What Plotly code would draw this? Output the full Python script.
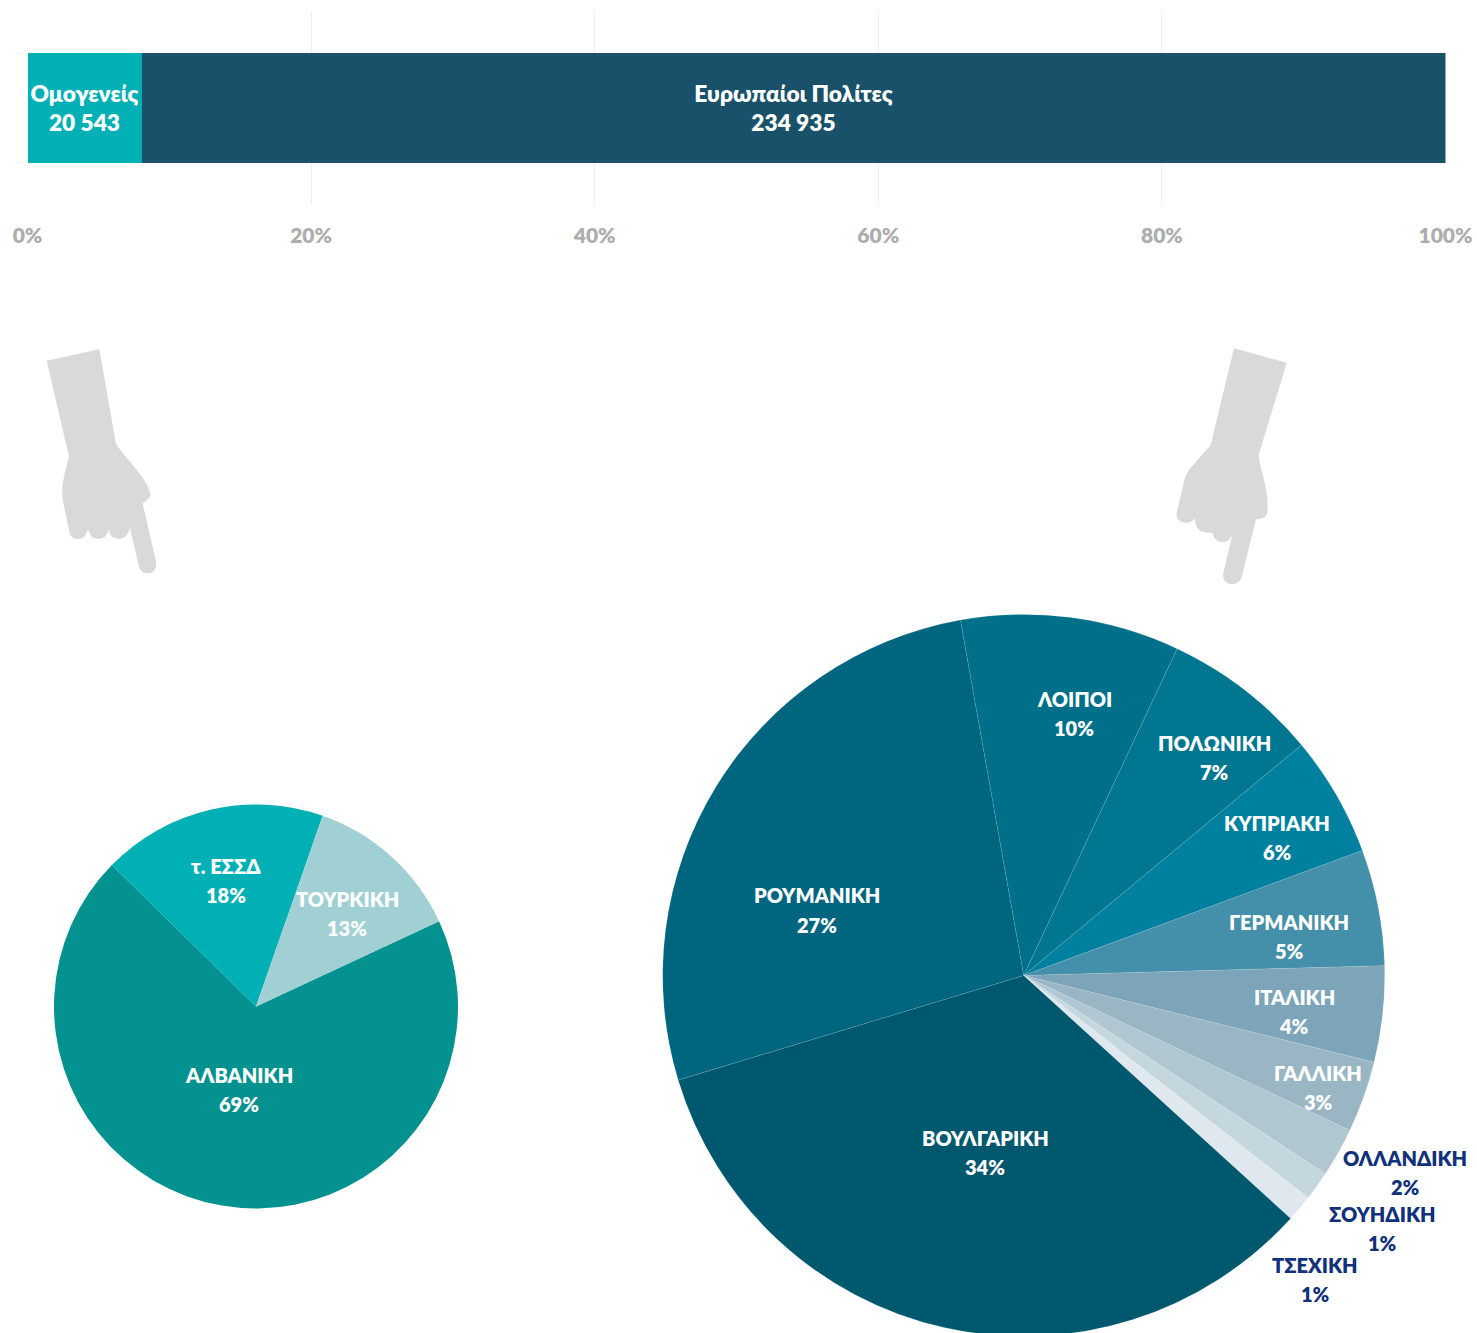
import re
import plotly.graph_objects as go

W, H = 1477, 1340
FONT = "Lato, 'Noto Sans', sans-serif"

# --- data ---
bar_names = ["Ομογενείς", "Ευρωπαίοι Πολίτες"]
bar_values = [20543, 234935]
tick_values = [0, 20, 40, 60, 80, 100]
tick_labels = ["0%", "20%", "40%", "60%", "80%", "100%"]

left_labels = ["ΑΛΒΑΝΙΚΗ", "τ. ΕΣΣΔ", "ΤΟΥΡΚΙΚΗ"]
left_values = [69.3, 18.0, 12.7]
left_percent = [69, 18, 13]

right_labels = ["ΛΟΙΠΟΙ", "ΠΟΛΩΝΙΚΗ", "ΚΥΠΡΙΑΚΗ", "ΓΕΡΜΑΝΙΚΗ", "ΙΤΑΛΙΚΗ", "ΓΑΛΛΙΚΗ",
                "ΟΛΛΑΝΔΙΚΗ", "ΣΟΥΗΔΙΚΗ", "ΤΣΕΧΙΚΗ", "ΒΟΥΛΓΑΡΙΚΗ", "ΡΟΥΜΑΝΙΚΗ"]
right_values = [9.8, 7.0, 5.4, 5.2, 4.3, 3.2, 2.2, 1.3, 1.2, 33.6, 26.9]
right_percent = [10, 7, 6, 5, 4, 3, 2, 1, 1, 34, 27]

# --- style ---
bar_colors = ["#00B0B5", "#19516A"]
left_colors = ["#03928F", "#00B0B5", "#A1D0D4"]
right_colors = ["#006F8A", "#007690", "#00809F", "#448FA9", "#7CA5BA", "#9AB6C5",
                "#B0C6D0", "#C4D7DE", "#DEE8EE", "#00586E", "#00667F"]
WHITE, NAVY = "#FFFFFF", "#11317A"
FS = 20
WEIGHT = 800

left_pos = [(239, 1089), (226, 880.5), (347, 913.5)]
right_pos = [(1074, 713.5), (1214, 757.5), (1277, 837.5), (1289, 936.5), (1294, 1011.5), (1318, 1087.5),
             (1405, 1172.5), (1382, 1228.5), (1315, 1279.5), (985, 1152.5), (817, 910)]
right_text_col = [WHITE] * 6 + [NAVY] * 3 + [WHITE] * 2


def px(x):
    return x / W


def py(y):
    return 1 - y / H


def pie_domain(cx, cy, r):
    return dict(x=[px(cx - r), px(cx + r)], y=[py(cy + r), py(cy - r)])


def hand(path, ox, oy):
    """Convert an outline given in 3x-zoom pixels to a paper-space SVG path."""
    tokens = re.findall(r"[MLQCZ]|-?\d+\.?\d*", path)
    out, is_x = [], True
    for t in tokens:
        if t.isalpha():
            out.append(t)
        else:
            v = float(t) / 3
            out.append(f"{px(v + ox):.5f}" if is_x else f"{py(v + oy):.5f}")
            is_x = not is_x
    return " ".join(out)


left_hand = ("M 50 62 L 208 28 L 258 312 C 290 360 345 405 362 462 Q 358 480 338 490 "
             "L 378 665 C 385 705 335 712 327 680 L 300 565 Q 290 597 268 597 Q 240 597 236 568 "
             "Q 230 597 205 597 Q 180 597 174 568 Q 168 597 143 597 Q 122 597 118 575 "
             "L 100 490 Q 92 450 103 405 L 117 350 Z")
right_hand = ("M 222 25 L 380 68 L 296 345 C 300 390 325 440 323 510 Q 322 538 288 538 "
              "L 246 708 C 238 745 182 738 190 700 L 218 580 Q 210 608 185 606 Q 162 604 157 578 "
              "Q 145 578 130 576 Q 108 574 104 535 Q 95 550 75 548 Q 46 545 50 518 "
              "L 72 425 Q 76 400 95 380 L 152 315 Z")

fig = go.Figure()

total = sum(bar_values)
for name, val, col in zip(bar_names, bar_values, bar_colors):
    fig.add_trace(go.Bar(
        y=[""], x=[val / total * 100], orientation="h", name=name,
        marker=dict(color=col, line=dict(width=0)),
        text=[f"{name}<br>{val:,}".replace(",", " ")],
        textposition="inside", insidetextanchor="middle", textangle=0,
        constraintext="none", textfont=dict(family=FONT, size=22.7, color=WHITE, weight=WEIGHT),
    ))

fig.add_trace(go.Pie(
    labels=left_labels, values=left_values, sort=False, direction="clockwise", rotation=65,
    marker=dict(colors=left_colors, line=dict(width=0)),
    textinfo="none", domain=pie_domain(256, 1006.5, 202), showlegend=False))
fig.add_trace(go.Pie(
    labels=right_labels, values=right_values, sort=False, direction="clockwise", rotation=349.9,
    marker=dict(colors=right_colors, line=dict(color="rgba(255,255,255,0.2)", width=0.5)),
    textinfo="none", domain=pie_domain(1023.7, 975.5, 361), showlegend=False))

anns = []
for labels, pcts, pos, cols in [
    (left_labels, left_percent, left_pos, [WHITE] * 3),
    (right_labels, right_percent, right_pos, right_text_col),
]:
    for lab, v, (x, y), c in zip(labels, pcts, pos, cols):
        for line, dy in ((lab, -14.5), (f"{v}%", 14.5)):
            anns.append(dict(
                x=px(x), y=py(y + dy), xref="paper", yref="paper", showarrow=False,
                xanchor="center", yanchor="middle", align="center", text=line,
                font=dict(family=FONT, size=FS, color=c, weight=WEIGHT)))

shapes = [
    dict(type="path", xref="paper", yref="paper", path=hand(left_hand, 30, 340),
         fillcolor="#D9D9D9", line=dict(width=0), layer="below"),
    dict(type="path", xref="paper", yref="paper", path=hand(right_hand, 1160, 340),
         fillcolor="#D9D9D9", line=dict(width=0), layer="below"),
]

fig.update_layout(
    width=W, height=H, margin=dict(l=0, r=0, t=0, b=0, autoexpand=False),
    paper_bgcolor="white", plot_bgcolor="white", barmode="stack", bargap=0.427,
    showlegend=False, annotations=anns, shapes=shapes, font=dict(family=FONT),
    xaxis=dict(domain=[px(27.5), px(1445.5)], range=[0, 100], tickvals=tick_values,
               ticktext=tick_labels, showgrid=True, gridcolor="#EFEFEF", gridwidth=1,
               zeroline=False, showline=False, ticks="outside", ticklen=13,
               tickcolor="rgba(0,0,0,0)",
               tickfont=dict(family=FONT, size=21, color="#ADADAD", weight=WEIGHT)),
    yaxis=dict(domain=[py(204), py(12)], showgrid=False, zeroline=False, showline=False,
               showticklabels=False),
)

fig.write_html("out.html", config={"displayModeBar": False}, post_script=(
    "document.body.style.margin='0';"
    "document.documentElement.style.overflow='hidden';"
    "document.body.style.overflow='hidden';"))
